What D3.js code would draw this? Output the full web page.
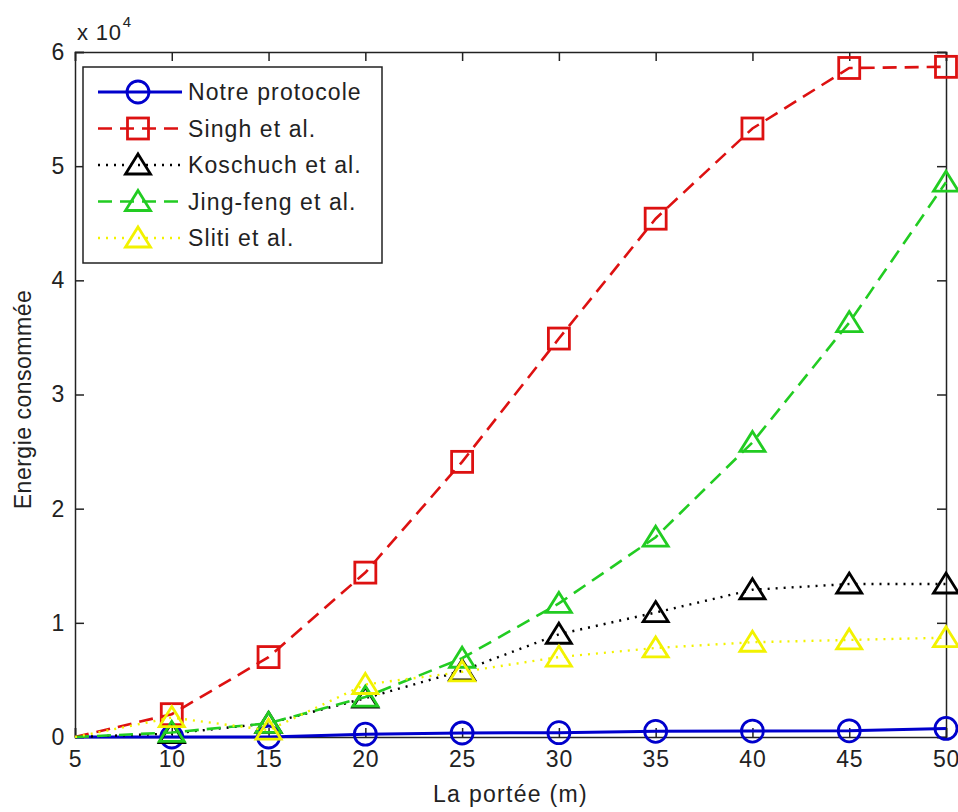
<!DOCTYPE html>
<html><head><meta charset="utf-8">
<script src="https://cdn.jsdelivr.net/npm/d3@7"></script>
<style>
html,body{margin:0;padding:0;background:#fff;}
svg{display:block;font-family:"Liberation Sans",Arial,Helvetica,sans-serif;}
</style></head>
<body>
<svg id="chart" width="958" height="812"></svg>
<script>
const xValues = [5, 10, 15, 20, 25, 30, 35, 40, 45, 50];
const notre   = [0, 0, 0, 250, 350, 380, 500, 520, 540, 750];
const singh   = [0, 2000, 7000, 14400, 24100, 34900, 45400, 53300, 58600, 58700];
const koschuch= [0, 300, 1200, 3400, 5800, 9000, 10900, 12900, 13400, 13400];
const jingfeng= [0, 400, 1200, 3500, 6900, 11700, 17500, 25800, 36300, 48600];
const sliti   = [0, 1700, 600, 4600, 5700, 7000, 7800, 8300, 8500, 8700];
const seriesNames = ["Notre protocole", "Singh et al.", "Koschuch et al.", "Jing-feng et al.", "Sliti et al."];
const xTicks = [5, 10, 15, 20, 25, 30, 35, 40, 45, 50];
const yTicks = [0, 1, 2, 3, 4, 5, 6];
const yScaleLabel = "x 10";
const yExponent = "4";
const xLabel = "La portée (m)";
const yLabel = "Energie consommée";

const series = [
  {name: seriesNames[0], values: notre,    color: "#0000cc", dash: null,   marker: "circle",   width: 3},
  {name: seriesNames[1], values: singh,    color: "#dd1111", dash: "14,8", marker: "square",   width: 2.6},
  {name: seriesNames[2], values: koschuch, color: "#000000", dash: "2,6",  marker: "triangle", width: 2.4},
  {name: seriesNames[3], values: jingfeng, color: "#22cc22", dash: "14,8", marker: "triangle", width: 2.6},
  {name: seriesNames[4], values: sliti,    color: "#f2f200", dash: "2,6",  marker: "triangle", width: 2.4}
];

const L = 75, R = 946, T = 52, B = 737;
const svg = d3.select("#chart");
const x = d3.scaleLinear().domain([5, 50]).range([L, R]);
const y = d3.scaleLinear().domain([0, 60000]).range([B, T]);
const fs = 23;
const txtColor = "#222";

// Axes (MATLAB box, ticks inward)
const tickLen = 9;
const axColor = "#222";
const gx = svg.append("g").attr("transform", `translate(0,${B})`)
  .call(d3.axisBottom(x).tickValues(xTicks).tickSize(-tickLen).tickPadding(14).tickFormat(d3.format("d")));
const gxt = svg.append("g").attr("transform", `translate(0,${T})`)
  .call(d3.axisTop(x).tickValues(xTicks).tickSize(-tickLen).tickFormat(""));
const gy = svg.append("g").attr("transform", `translate(${L},0)`)
  .call(d3.axisLeft(y).tickValues(yTicks.map(v => v * 1e4)).tickSize(-tickLen).tickPadding(10).tickFormat(d => d / 1e4));
const gyr = svg.append("g").attr("transform", `translate(${R},0)`)
  .call(d3.axisRight(y).tickValues(yTicks.map(v => v * 1e4)).tickSize(-tickLen).tickFormat(""));
[gx, gxt, gy, gyr].forEach(g => {
  g.selectAll("path.domain").attr("stroke", axColor).attr("stroke-width", 1.5);
  g.selectAll("line").attr("stroke", axColor).attr("stroke-width", 1.5);
  g.selectAll("text").attr("fill", txtColor).style("font-size", fs + "px")
    .style("font-family", "'Liberation Sans',Arial,sans-serif").style("letter-spacing", "0.8px");
});

// exponent label
const ex = svg.append("text").attr("x", L + 2).attr("y", 40).attr("fill", txtColor)
  .style("font-size", "22px").style("letter-spacing", "0.8px");
ex.append("tspan").text(yScaleLabel);
ex.append("tspan").attr("dy", -13).attr("dx", 1).style("font-size", "15px").text(yExponent);

// axis labels
svg.append("text").attr("x", (L + R) / 2).attr("y", 802).attr("text-anchor", "middle")
  .attr("fill", txtColor).style("font-size", fs + "px").style("letter-spacing", "1.3px").text(xLabel);
svg.append("text").attr("transform", `translate(31,${(T + B) / 2 + 5}) rotate(-90)`)
  .attr("text-anchor", "middle").attr("fill", txtColor).style("font-size", fs + "px")
  .style("letter-spacing", "0.5px").text(yLabel);

function drawMarker(g, type, cx, cy, color) {
  if (type === "circle") {
    g.append("circle").attr("cx", cx).attr("cy", cy).attr("r", 11)
      .attr("fill", "none").attr("stroke", color).attr("stroke-width", 2.8);
  } else if (type === "square") {
    g.append("rect").attr("x", cx - 10.5).attr("y", cy - 10.5).attr("width", 21).attr("height", 21)
      .attr("fill", "none").attr("stroke", color).attr("stroke-width", 2.8);
  } else {
    g.append("path").attr("d", `M${cx},${cy - 11}L${cx + 12.5},${cy + 9}L${cx - 12.5},${cy + 9}Z`)
      .attr("fill", "none").attr("stroke", color).attr("stroke-width", 2.8).attr("stroke-linejoin", "miter");
  }
}

const line = d3.line().x((d, i) => x(xValues[i])).y(d => y(d));
series.forEach(s => {
  const g = svg.append("g");
  g.append("path").datum(s.values).attr("d", line).attr("fill", "none")
    .attr("stroke", s.color).attr("stroke-width", s.width)
    .attr("stroke-dasharray", s.dash);
  s.values.forEach((v, i) => {
    if (xValues[i] > 5) drawMarker(g, s.marker, x(xValues[i]), y(v), s.color);
  });
});

// Legend
const lg = svg.append("g");
lg.append("rect").attr("x", 83).attr("y", 67).attr("width", 299).attr("height", 196)
  .attr("fill", "#fff").attr("stroke", "#222").attr("stroke-width", 1.5);
series.forEach((s, i) => {
  const cy = 92 + i * 36.5;
  lg.append("line").attr("x1", 98).attr("x2", 182).attr("y1", cy).attr("y2", cy)
    .attr("stroke", s.color).attr("stroke-width", s.width).attr("stroke-dasharray", s.dash);
  drawMarker(lg, s.marker, 138, cy, s.color);
  lg.append("text").attr("x", 188).attr("y", cy + 8).attr("fill", txtColor)
    .style("font-size", fs + "px").style("letter-spacing", "1.1px").text(s.name);
});
</script>
</body></html>
